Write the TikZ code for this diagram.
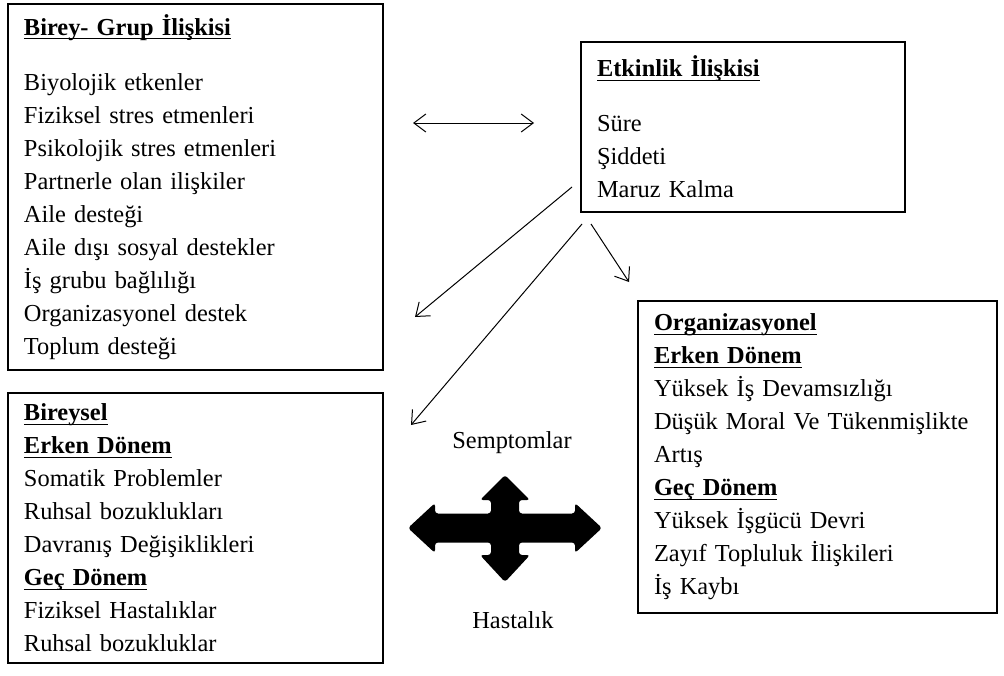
\documentclass[tikz,border=0pt]{standalone}
\usepackage{fontspec}
\setmainfont{Liberation Serif}
\usetikzlibrary{arrows.meta}

\tikzset{
	kutu/.style={draw, line width=0.7pt, align=left, inner xsep=8pt, inner ysep=0pt,
		font=\fontsize{12.2}{16.5}\selectfont},
	etiket/.style={font=\fontsize{12.2}{16.5}\selectfont},
	ok/.style={-{Straight Barb[length=6pt,width=9pt]}, line width=0.5pt},
}
\newcommand{\baslik}[1]{\leavevmode\setbox0\hbox{\textbf{#1}}\rlap{\rule[-2pt]{\wd0}{0.65pt}}\box0}

\begin{document}
\begin{tikzpicture}[x=0.5pt,y=-0.5pt]
		\useasboundingbox (0,0) rectangle (1004,675);
		\node[kutu, minimum width=187.5pt, minimum height=183pt, text width=171.5pt] (grup) at (195.5,187) {\baslik{Birey- Grup İlişkisi}\\[11pt]
			Biyolojik etkenler\\ Fiziksel stres etmenleri\\ Psikolojik stres etmenleri\\
			Partnerle olan ilişkiler\\ Aile desteği\\ Aile dışı sosyal destekler\\
			İş grubu bağlılığı\\ Organizasyonel destek\\ Toplum desteği};
		\node[kutu, minimum width=162pt, minimum height=85pt, text width=146pt] (etk) at (743,127) {\baslik{Etkinlik İlişkisi}\\[11pt]
			Süre\\ Şiddeti\\ Maruz Kalma};
		\node[kutu, minimum width=187.5pt, minimum height=135pt, text width=171.5pt] (birey) at (195.5,528) {\baslik{Bireysel}\\ \baslik{Erken Dönem}\\
			Somatik Problemler\\ Ruhsal bozuklukları\\ Davranış Değişiklikleri\\
			\baslik{Geç Dönem}\\ Fiziksel Hastalıklar\\ Ruhsal bozukluklar};
		\node[kutu, minimum width=179.5pt, minimum height=156pt, text width=163.5pt] (org) at (817.5,457) {\baslik{Organizasyonel}\\ \baslik{Erken Dönem}\\
			Yüksek İş Devamsızlığı\\ Düşük Moral Ve Tükenmişlikte\\ Artış\\
			\baslik{Geç Dönem}\\ Yüksek İşgücü Devri\\ Zayıf Topluluk İlişkileri\\ İş Kaybı};
		%
		\node[etiket] (sem) at (512,443) {Semptomlar};
		\node[etiket] (has) at (513,620) {Hastalık};
		%
		\coordinate (d1) at (413,123);
		\coordinate (d2) at (534,123);
		\coordinate (s1) at (572,187);
		\coordinate (e1) at (415,317);
		\coordinate (s2) at (582,224);
		\coordinate (e2) at (411,425);
		\coordinate (s3) at (591,224);
		\coordinate (e3) at (629,282);
		\draw[ok, {Straight Barb[length=6pt,width=9pt]}-{Straight Barb[length=6pt,width=9pt]}] (d1) -- (d2);
		\draw[ok] (s1) -- (e1);
		\draw[ok] (s2) -- (e2);
		\draw[ok] (s3) -- (e3);
		%
		\fill[rounded corners=1.5pt] (505,475) -- (530,500) -- (519,500) -- (519,513.5) -- (575,513.5)
			-- (575,503) -- (602,528) -- (575,553) -- (575,542.5) -- (519,542.5) -- (519,555)
			-- (530,555) -- (505,582) -- (480,555) -- (491,555) -- (491,542.5) -- (435,542.5)
			-- (435,553) -- (408,528) -- (435,503) -- (435,513.5) -- (491,513.5) -- (491,500)
			-- (480,500) -- cycle;
\end{tikzpicture}
\end{document}
